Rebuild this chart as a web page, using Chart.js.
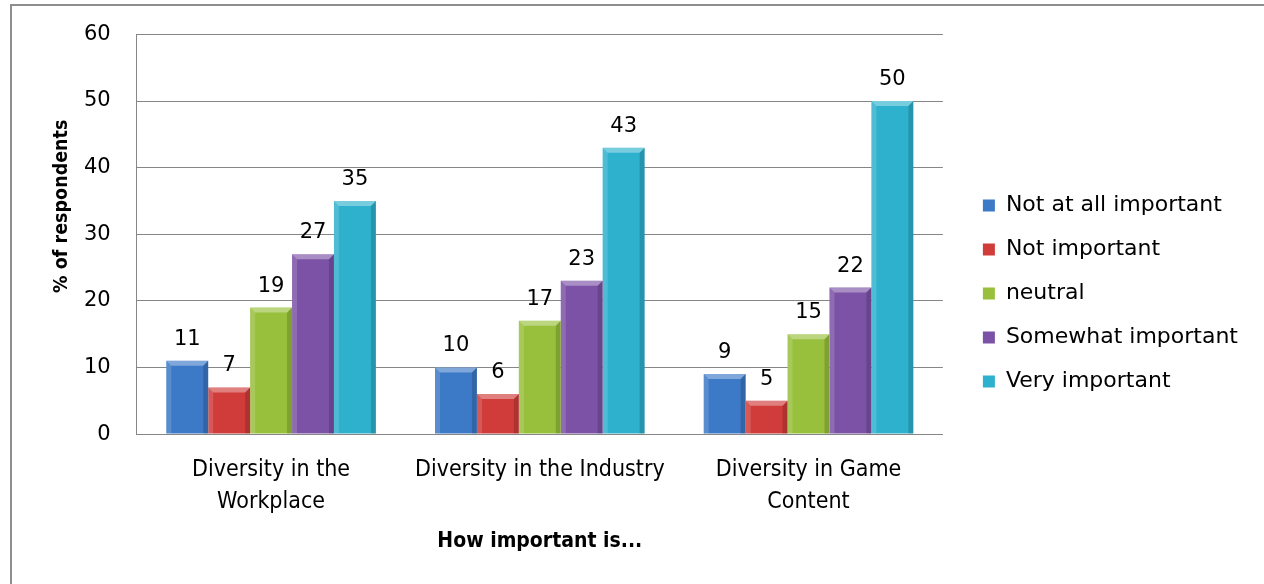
<!DOCTYPE html>
<html>
<head>
<meta charset="utf-8">
<script src="https://cdn.jsdelivr.net/npm/chart.js@4"></script>
<style>
    html, body { margin: 0; padding: 0; background: #fff; overflow: hidden; }
    #wrap { position: relative; width: 1264px; height: 584px; }
    #frame {
        position: absolute; left: 10px; top: 4px; width: 1400px; height: 800px;
        border: 2px solid #8e8e8e; box-sizing: border-box;
    }
    #chart { position: absolute; left: 0; top: 0; }
</style>
</head>
<body>
<div id="wrap">
    <div id="frame"></div>
    <canvas id="chart" width="1264" height="584"></canvas>
</div>
<script>
const CATEGORIES = [
    ["Diversity in the", "Workplace"],
    "Diversity in the Industry",
    ["Diversity in Game", "Content"]
];
const SERIES_NAMES = ["Not at all important", "Not important", "neutral", "Somewhat important", "Very important"];
const NOT_AT_ALL = [11, 10, 9];
const NOT_IMPORTANT = [7, 6, 5];
const NEUTRAL = [19, 17, 15];
const SOMEWHAT = [27, 23, 22];
const VERY = [35, 43, 50];
const Y_TICKS = [0, 10, 20, 30, 40, 50, 60];

const COLORS = ["#3c79c6", "#d03c3a", "#98c03c", "#7b52a6", "#2eb1cd"];
const SANS = "'DejaVu Sans', sans-serif";
const NARROW = "'DejaVu Sans Condensed', 'DejaVu Sans', sans-serif";

const values = [NOT_AT_ALL, NOT_IMPORTANT, NEUTRAL, SOMEWHAT, VERY];

// bevelled look of the office-style columns
const bevelPlugin = {
    id: "bevel",
    afterDatasetsDraw(chart) {
        const ctx = chart.ctx;
        chart.data.datasets.forEach((ds, di) => {
            chart.getDatasetMeta(di).data.forEach(bar => {
                const left = bar.x - bar.width / 2;
                const right = bar.x + bar.width / 2;
                const top = bar.y;
                const bottom = bar.base;
                const b = 5;
                ctx.save();
                // left highlight
                ctx.fillStyle = "rgba(255,255,255,0.15)";
                ctx.beginPath();
                ctx.moveTo(left, top); ctx.lineTo(left + b, top + b);
                ctx.lineTo(left + b, bottom); ctx.lineTo(left, bottom);
                ctx.closePath(); ctx.fill();
                // right shade
                ctx.fillStyle = "rgba(0,0,0,0.16)";
                ctx.beginPath();
                ctx.moveTo(right, top); ctx.lineTo(right - b, top + b);
                ctx.lineTo(right - b, bottom); ctx.lineTo(right, bottom);
                ctx.closePath(); ctx.fill();
                // top bevel
                ctx.fillStyle = "rgba(255,255,255,0.35)";
                ctx.beginPath();
                ctx.moveTo(left, top); ctx.lineTo(right, top);
                ctx.lineTo(right - b, top + b); ctx.lineTo(left + b, top + b);
                ctx.closePath(); ctx.fill();
                ctx.restore();
            });
        });
    }
};

// value labels above each column
const valueLabels = {
    id: "valueLabels",
    afterDatasetsDraw(chart) {
        const ctx = chart.ctx;
        ctx.save();
        ctx.font = "21px " + SANS;
        ctx.fillStyle = "#000";
        ctx.textAlign = "center";
        ctx.textBaseline = "alphabetic";
        chart.data.datasets.forEach((ds, di) => {
            chart.getDatasetMeta(di).data.forEach((bar, i) => {
                ctx.fillText(String(ds.data[i]), bar.x, bar.y - 16);
            });
        });
        ctx.restore();
    }
};

// rotated y axis title, sits a little above the middle of the plot
const yTitle = {
    id: "yTitle",
    afterDraw(chart) {
        const ctx = chart.ctx;
        const area = chart.chartArea;
        ctx.save();
        ctx.translate(62, area.top + (area.bottom - area.top) * 0.43);
        ctx.rotate(-Math.PI / 2);
        ctx.font = "bold 19.5px " + NARROW;
        ctx.fillStyle = "#000";
        ctx.textAlign = "center";
        ctx.textBaseline = "middle";
        ctx.fillText("% of respondents", 0, 0);
        ctx.restore();
    }
};

// leave a small gap between the plot and the legend, nudge the legend down a bit
const legendGap = {
    id: "legendGap",
    afterLayout(chart) {
        const lg = chart.legend;
        lg.left += 18; lg.right += 18;
        lg.top += 3; lg.bottom += 3;
    }
};

new Chart(document.getElementById("chart"), {
    type: "bar",
    data: {
        labels: CATEGORIES,
        datasets: SERIES_NAMES.map((name, i) => ({
            label: name,
            data: values[i],
            backgroundColor: COLORS[i],
            borderWidth: 0,
            barPercentage: 1,
            categoryPercentage: 0.78
        }))
    },
    options: {
        responsive: false,
        animation: false,
        layout: { padding: { left: 58, top: 29, right: 34, bottom: 32 } },
        plugins: {
            tooltip: { enabled: false },
            legend: {
                position: "right",
                labels: {
                    boxWidth: 12,
                    boxHeight: 12,
                    padding: 22,
                    color: "#000",
                    font: { family: SANS, size: 22 }
                }
            }
        },
        scales: {
            x: {
                grid: { display: false, drawTicks: false },
                border: { color: "#868686", width: 1 },
                ticks: {
                    color: "#000",
                    padding: 20,
                    font: { family: NARROW, size: 23, lineHeight: 1.39 },
                    maxRotation: 0
                },
                title: {
                    display: true,
                    text: "How important is...",
                    color: "#000",
                    font: { family: NARROW, size: 21, weight: "bold", lineHeight: 1 },
                    padding: { top: -7, bottom: 0 }
                }
            },
            y: {
                min: 0,
                max: 60,
                afterBuildTicks: axis => { axis.ticks = Y_TICKS.map(v => ({ value: v })); },
                grid: { color: "#868686", drawTicks: false },
                border: { color: "#868686", width: 1 },
                ticks: {
                    color: "#000",
                    padding: 26,
                    font: { family: SANS, size: 21, lineHeight: 0.8 }
                }
            }
        }
    },
    plugins: [bevelPlugin, valueLabels, yTitle, legendGap]
});
</script>
</body>
</html>
